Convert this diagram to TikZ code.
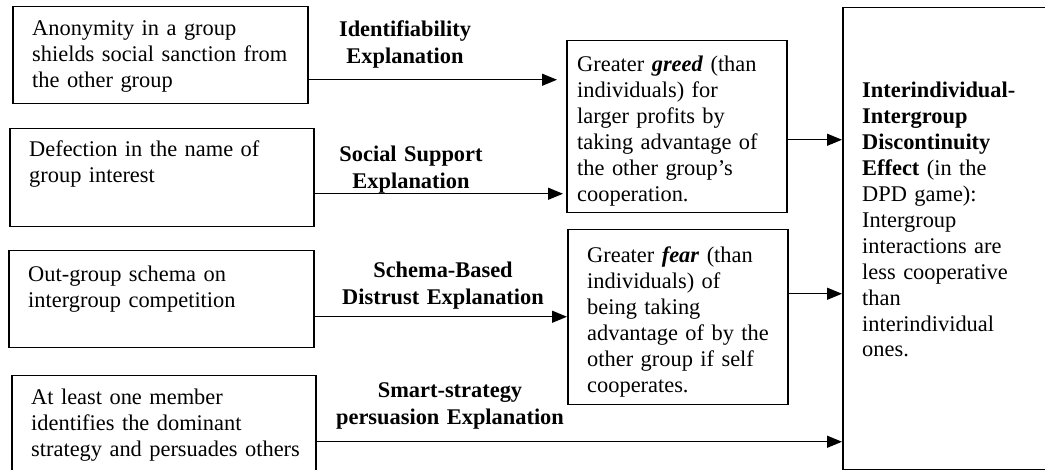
\documentclass[tikz,border=0pt]{standalone}
\usepackage{fontspec}
\setmainfont{Liberation Serif}
\usepackage{tikz}
\usetikzlibrary{positioning, arrows.meta}

\begin{document}
\begin{tikzpicture}[x=1pt, y=-1pt,
   box/.style={draw, line width=1.5pt, anchor=north west, inner sep=0pt},
   txt/.style={anchor=base west, inner sep=0pt, align=left, text width=320pt, font=\fontsize{22.4}{25.9}\selectfont},
   lbl/.style={anchor=base, inner sep=0pt, align=center, text width=280pt, font=\fontsize{22.4}{27}\selectfont\bfseries},
   arr/.style={-{Triangle[length=15pt, width=12pt]}, line width=1.3pt}]
   \useasboundingbox (0,0) rectangle (1045,470);
   \clip (0,0) rectangle (1045,470);

   % Causes on the left
   \node[box, minimum width=295pt, minimum height=97pt] (anon) at (12,6) {};
   \node[box, minimum width=304pt, minimum height=98pt] (defect) at (9,128) {};
   \node[box, minimum width=305pt, minimum height=97pt] (schema) at (8,250) {};
   \node[box, minimum width=304pt, minimum height=110pt] (smart) at (11,375) {};

   \node[txt] (anon-t) at ([shift={(20pt,-30pt)}]anon.north west)
      {Anonymity in a group\\shields social sanction from\\the other group};
   \node[txt] (defect-t) at ([shift={(20pt,-29pt)}]defect.north west)
      {Defection in the name of\\group interest};
   \node[txt] (schema-t) at ([shift={(20pt,-32pt)}]schema.north west)
      {Out-group schema on\\intergroup competition};
   \node[txt] (smart-t) at ([shift={(20pt,-30pt)}]smart.north west)
      {At least one member\\identifies the dominant\\strategy and persuades others};

   % Greed and fear
   \node[box, minimum width=220pt, minimum height=172pt] (greed) at (566,40) {};
   \node[box, minimum width=220pt, minimum height=175pt] (fear) at (567,229) {};

   \node[txt] (greed-t) at ([shift={(11pt,-32pt)}]greed.north west)
      {Greater \textbf{\textit{greed}} (than\\individuals) for\\larger profits by\\taking advantage of\\the other group's\\cooperation.};
   \node[txt] (fear-t) at ([shift={(20pt,-34pt)}]fear.north west)
      {Greater \textbf{\textit{fear}} (than\\individuals) of\\being taking\\advantage of by the\\other group if self\\cooperates.};

   % The effect
   \node[box, minimum width=220pt, minimum height=462pt] (effect) at (842,7) {};
   \node[txt] (effect-t) at ([shift={(20pt,-91pt)}]effect.north west)
      {\textbf{Interindividual-}\\\textbf{Intergroup}\\\textbf{Discontinuity}\\\textbf{Effect} (in the\\DPD game):\\Intergroup\\interactions are\\less cooperative\\than\\interindividual\\ones.};

   % Explanations
   \node[lbl] (lid) at (405,37) {Identifiability\\Explanation};
   \node[lbl] (lsoc) at (411,162) {Social Support\\Explanation};
   \node[lbl] (lsch) at (443,278) {Schema-Based\\Distrust Explanation};
   \node[lbl] (lsma) at (450,398) {Smart-strategy\\persuasion Explanation};

   % Arrows
   \draw[arr, shorten >=9pt] ([yshift=-24.5pt]anon.east) -- ([yshift=-24.5pt]anon.east -| greed.west);
   \draw[arr, shorten >=3pt] ([yshift=-16pt]defect.east) -- ([yshift=-16pt]defect.east -| greed.west);
   \draw[arr] ([yshift=-17.5pt]schema.east) -- ([yshift=-17.5pt]schema.east -| fear.west);
   \draw[arr] ([yshift=-11pt]smart.east) -- ([yshift=-11pt]smart.east -| effect.west);
   \draw[arr] ([yshift=-13pt]greed.east) -- ([yshift=-13pt]greed.east -| effect.west);
   \draw[arr] ([yshift=23.5pt]fear.east) -- ([yshift=23.5pt]fear.east -| effect.west);
\end{tikzpicture}
\end{document}
